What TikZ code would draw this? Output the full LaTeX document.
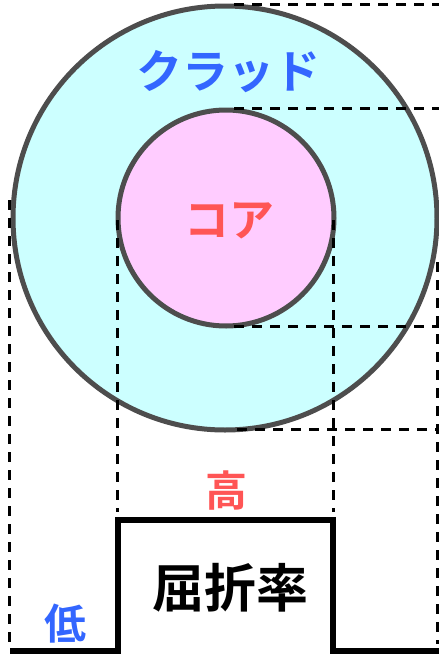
\documentclass[tikz,border=0pt]{standalone}
\usepackage{fontspec}
\newfontfamily\jpfont{Noto Sans CJK JP}[BoldFont={Noto Sans CJK JP Bold}]
\definecolor{cladfill}{HTML}{CCFFFF}
\definecolor{corefill}{HTML}{FFCCFF}
\definecolor{rim}{HTML}{4D4D4D}
\definecolor{lblblue}{HTML}{3366FF}
\definecolor{lblred}{HTML}{FF5555}
\tikzset{
  ring/.style={circle, draw=rim, line width=5pt, inner sep=0pt},
  guide/.style={draw=black, line width=3pt, dash pattern=on 10pt off 8pt},
  profile/.style={draw=black, line width=5.5pt, line join=miter},
  lbl/.style={font=\jpfont\bfseries, inner sep=0pt, anchor=center}
}
\begin{document}
\begin{tikzpicture}[x=1pt,y=-1pt]
\useasboundingbox (0,0) rectangle (439,654);
\node[ring, fill=cladfill, minimum size=424pt] (outer) at (225,218) {};
\node[ring, fill=corefill, minimum size=216pt] (inner) at (226,218) {};
\node[lbl, text=lblblue, font=\jpfont\bfseries\fontsize{46}{46}\selectfont] (clad) at (228,72) {クラッド};
\node[lbl, text=lblred, font=\jpfont\bfseries\fontsize{45}{45}\selectfont] (core) at (229,221) {コア};
% horizontal guides
\coordinate (h1a) at (234,4);   \coordinate (h1b) at (439,4);
\coordinate (h2a) at (234,108); \coordinate (h2b) at (439,108);
\coordinate (h3a) at (234,326); \coordinate (h3b) at (439,326);
\coordinate (h4a) at (237,429); \coordinate (h4b) at (439,429);
\draw[guide] (h1a) -- (h1b);
\draw[guide] (h2a) -- (h2b);
\draw[guide] (h3a) -- (h3b);
\draw[guide] (h4a) -- (h4b);
% vertical guides
\coordinate (v1a) at (9,200);   \coordinate (v1b) at (9,642);
\coordinate (v2a) at (117,220); \coordinate (v2b) at (117,512);
\coordinate (v3a) at (333,220); \coordinate (v3b) at (333,512);
\coordinate (v4a) at (437,262); \coordinate (v4b) at (437,644);
\draw[guide] (v1a) -- (v1b);
\draw[guide] (v2a) -- (v2b);
\draw[guide] (v3a) -- (v3b);
\draw[guide] (v4a) -- (v4b);
% index profile
\coordinate (p0) at (10,651);
\coordinate (p1) at (118,651);
\coordinate (p2) at (118,520);
\coordinate (p3) at (333,520);
\coordinate (p4) at (333,651);
\coordinate (p5) at (439,651);
\draw[profile] (p0) -- (p1) -- (p2) -- (p3) -- (p4) -- (p5);
\node[lbl, text=lblred, font=\jpfont\bfseries\fontsize{42}{42}\selectfont] (high) at (226,491) {高};
\node[lbl, text=lblblue, font=\jpfont\bfseries\fontsize{42}{42}\selectfont] (low) at (66,624) {低};
\node[lbl, text=black, font=\jpfont\bfseries\fontsize{52}{52}\selectfont] (idx) at (230,588) {屈折率};
\end{tikzpicture}
\end{document}
